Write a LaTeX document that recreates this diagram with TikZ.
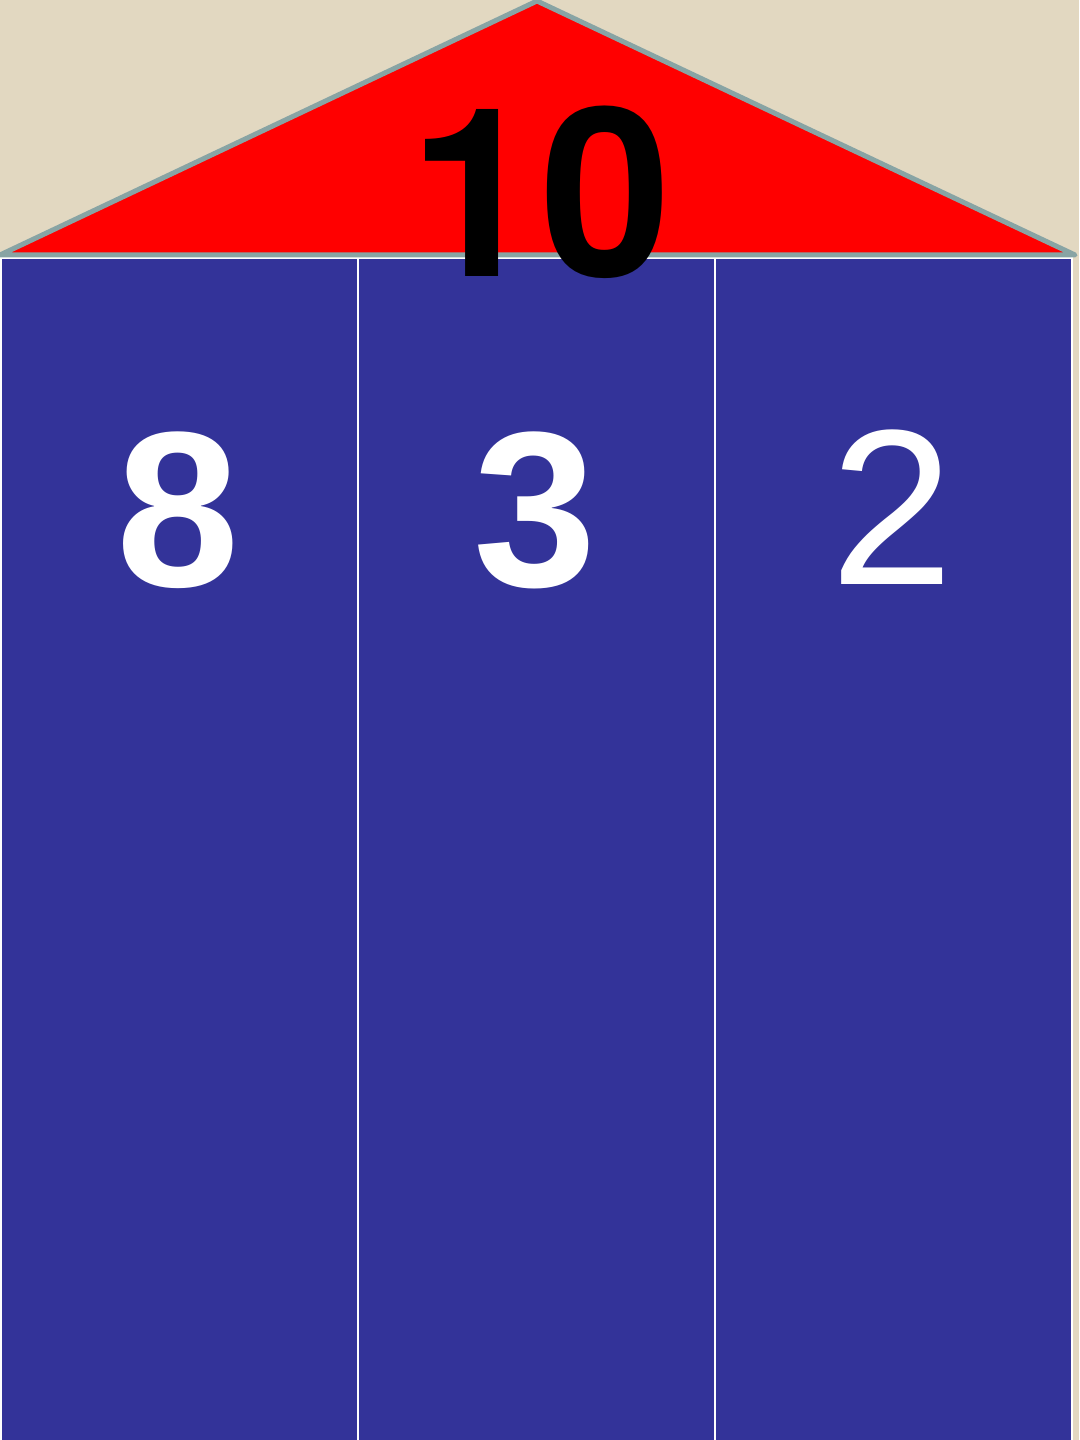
\documentclass[tikz,border=0pt]{standalone}
\usepackage{fontspec}
\setmainfont{Liberation Sans}
\newfontfamily\roofont{TeX Gyre Heros}
\definecolor{ColBlue}{RGB}{51,51,153}
\definecolor{RoofGray}{RGB}{136,164,164}
\definecolor{PaperBeige}{RGB}{226,216,193}
\usetikzlibrary{positioning}

\begin{document}
\begin{tikzpicture}[
  x=0.01cm, y=-0.01cm,
  column/.style={
    draw=white,
    fill=ColBlue,
    line width=0.02cm,
    minimum width=3.57cm,
    minimum height=11.9cm,
    inner sep=0pt,
    anchor=north west
  },
  roof/.style={
    fill=red,
    draw=RoofGray,
    line width=0.05cm,
    line join=round
  },
  part/.style={
    anchor=base,
    text=white,
    font=\fontsize{63}{63}\selectfont
  }
]

\useasboundingbox (0,0) rectangle (1079,1440);
\fill[PaperBeige] (0,0) rectangle (1079,1440);

\node[column] (A) at (0,257) {};
\node[column] (B) at (357,257) {};
\node[column] (C) at (714,257) {};

\coordinate (L) at (0,255);
\coordinate (T) at (537,1);
\coordinate (R) at (1075,255);
\draw[roof] (L) -- (T) -- (R) -- cycle;

\node[anchor=base, font=\roofont\fontsize{67}{67}\selectfont\bfseries] (total) at (540,277) {10};

\node[part, font=\fontsize{63}{63}\selectfont\bfseries] (p1) at (178,586) {8};
\node[part, font=\fontsize{63}{63}\selectfont\bfseries] (p2) at (535,586) {3};
\node[part] (p3) at (892,584) {2};

\end{tikzpicture}
\end{document}
